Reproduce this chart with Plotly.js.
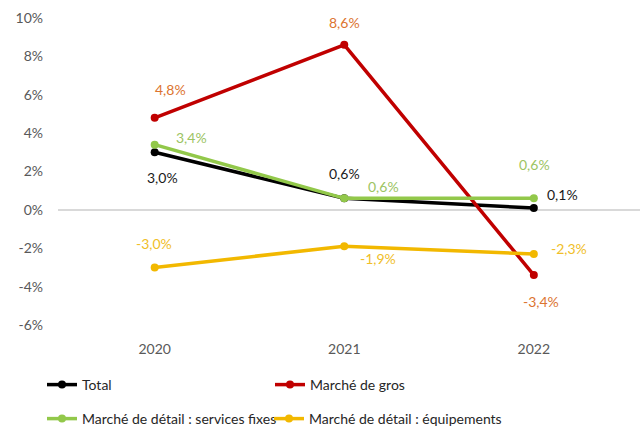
<!DOCTYPE html>
<html>
<head>
<meta charset="utf-8">
<script src="https://cdn.plot.ly/plotly-3.0.1.min.js"></script>
<style>html,body{margin:0;padding:0;background:#fff;}#chart{width:643px;height:429px;}</style>
</head>
<body>
<div id="chart"></div>
<script>
// ---- Data ----
const years = ['2020', '2021', '2022'];
const seriesNames = ['Total', 'Marché de gros', 'Marché de détail : services fixes', 'Marché de détail : équipements'];
const total = [3.0, 0.6, 0.1];
const gros = [4.8, 8.6, -3.4];
const servicesFixes = [3.4, 0.6, 0.6];
const equipements = [-3.0, -1.9, -2.3];
const yTickValues = [-6, -4, -2, 0, 2, 4, 6, 8, 10];
const yTickLabels = ['-6%', '-4%', '-2%', '0%', '2%', '4%', '6%', '8%', '10%'];

// ---- Styles ----
const FONT = 'Lato, "Open Sans", sans-serif';
const lineColors = ['#000000', '#C00000', '#92C84A', '#F2B800'];
const labelColors = ['#1a1a1a', '#DC7430', '#9CC463', '#F0BE28'];
// label pixel offsets per series per point [dx, dy]
const labelOffsets = [
  [[8, -25], [0, 25], [29, 13]],
  [[16, 28], [0, 22], [7, -26]],
  [[37, 7], [39, 12], [1, 34]],
  [[-1, 24], [34, -12], [35, 6]]
];
const allSeries = [total, gros, servicesFixes, equipements];
const legendIds = ['legend', 'legend2', 'legend3', 'legend4'];
// legend positions in container pixels [left, centerY]
const legendPos = [[42, 385], [270, 385], [42, 419], [269, 419]];

const traces = allSeries.map((vals, i) => ({
  x: years, y: vals, type: 'scatter', mode: 'lines+markers',
  name: seriesNames[i],
  line: {color: lineColors[i], width: 3.5},
  marker: {color: lineColors[i], size: 8},
  legend: legendIds[i],
  hoverinfo: 'skip'
}));

const fmt = v => v.toFixed(1).replace('.', ',') + '%';
const annotations = [];
allSeries.forEach((vals, i) => {
  vals.forEach((v, j) => {
    annotations.push({
      x: j, y: v, xref: 'x', yref: 'y', text: fmt(v), showarrow: false,
      xshift: labelOffsets[i][j][0], yshift: labelOffsets[i][j][1],
      font: {family: FONT, size: 14, color: labelColors[i]}
    });
  });
});

const layout = {
  width: 643, height: 429,
  margin: {l: 58, r: 3, t: 18, b: 104},
  paper_bgcolor: '#ffffff', plot_bgcolor: '#ffffff',
  font: {family: FONT, size: 14, color: '#595959'},
  xaxis: {
    type: 'category', range: [-0.51, 2.56], showgrid: false, zeroline: false, showline: false,
    ticks: '', ticklabelstandoff: 14, tickfont: {family: FONT, size: 14, color: '#595959'}
  },
  yaxis: {
    range: [-6, 10], tickvals: yTickValues, ticktext: yTickLabels, showgrid: false,
    zeroline: true, zerolinecolor: '#D9D9D9', zerolinewidth: 1.5, showline: false, ticks: '',
    ticklabelstandoff: 14, tickfont: {family: FONT, size: 14, color: '#595959'}
  },
  showlegend: true,
  annotations: annotations
};
legendIds.forEach((id, i) => {
  layout[id] = {
    orientation: 'h', xref: 'container', yref: 'container', xanchor: 'left', yanchor: 'middle',
    x: legendPos[i][0] / 643, y: 1 - legendPos[i][1] / 429,
    font: {family: FONT, size: 14, color: '#262626'}, bgcolor: 'rgba(0,0,0,0)', itemclick: false
  };
});

Plotly.newPlot('chart', traces, layout, {staticPlot: true, displayModeBar: false});
</script>
</body>
</html>
